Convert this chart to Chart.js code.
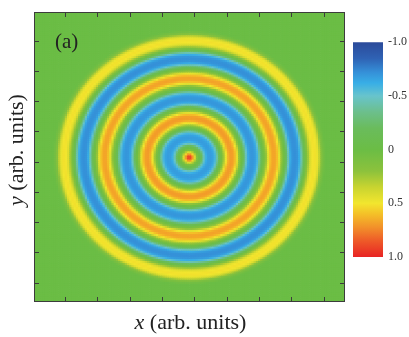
<!DOCTYPE html>
<html><head><meta charset="utf-8">
<script src="https://cdn.jsdelivr.net/npm/chart.js@4.4.1/dist/chart.umd.min.js"></script>
<style>
html,body{margin:0;padding:0;background:#fff;}
#wrap{position:relative;width:409px;height:337px;overflow:hidden;}
#main{position:absolute;left:0;top:0;width:409px;height:337px;}
#cbar{position:absolute;left:353px;top:30px;width:56px;height:240px;}
</style></head><body>
<div id="wrap"><div id="main"><canvas id="c1"></canvas></div><div id="cbar"><canvas id="c2"></canvas></div></div>
<script>
// Radial profile (radius in axis units, value on the colour scale)
const profileR = [0,0.013,0.026,0.039,0.051,0.064,
  0.084,0.096,0.109,0.122,0.135,0.148,0.161,0.174,0.186,0.203,
  0.219,0.232,0.244,0.257,0.270,0.283,0.296,0.309,0.322,0.338,
  0.354,0.367,0.379,0.392,0.405,0.418,0.431,0.444,0.457,0.473,
  0.492,0.505,0.518,0.531,0.543,0.556,0.569,0.582,0.595,0.611,
  0.627,0.640,0.653,0.666,0.678,0.691,0.704,0.717,0.730,0.746,
  0.752,0.765,0.778,0.791,0.804,0.817,0.830,0.842,0.855,0.875];
const profileV = [0.95,0.88,0.65,0.35,0.1,0,
  -0.26,-0.5,-0.62,-0.67,-0.68,-0.67,-0.62,-0.5,-0.26,0,
  0.2,0.42,0.6,0.68,0.7,0.68,0.6,0.42,0.2,0,
  -0.27,-0.51,-0.64,-0.69,-0.7,-0.69,-0.64,-0.51,-0.27,0,
  0.19,0.41,0.58,0.66,0.68,0.66,0.58,0.41,0.19,0,
  -0.27,-0.52,-0.66,-0.71,-0.72,-0.71,-0.66,-0.52,-0.27,0,
  0.1,0.26,0.42,0.5,0.52,0.5,0.42,0.26,0.1,0];
const xTicks = [-0.80,-0.595,-0.383,-0.177,0.029,0.241,0.447,0.653,0.865];
const yTicks = [0.802,0.593,0.386,0.179,-0.034,-0.241,-0.448,-0.655,-0.869];
const cbTicks = [-1,-0.5,0,0.5,1];
const cbLabels = ['-1.0','-0.5','0','0.5','1.0'];
const panelLabel = '(a)';
const xTitleVar = 'x', yTitleVar = 'y', titleRest = ' (arb. units)';
const gridN = 140;

// colour map stops (value -> colour)
const cmap = [[-1.0,'#2b4a9a'],[-0.85,'#2f62b4'],[-0.72,'#3590d8'],[-0.62,'#38aee6'],[-0.5,'#68c4cc'],[-0.35,'#6cbf8c'],[-0.2,'#6abc5c'],[0.0,'#6bbd45'],[0.2,'#8cc23c'],[0.35,'#c8d430'],[0.5,'#f2e62e'],[0.6,'#f4c028'],[0.72,'#f2922a'],[0.85,'#ee5a28'],[1.0,'#e82424']];
function hex2rgb(h){return [parseInt(h.substr(1,2),16),parseInt(h.substr(3,2),16),parseInt(h.substr(5,2),16)];}
const cmapRGB = cmap.map(s=>[s[0],hex2rgb(s[1])]);
function colorFor(v){
  v=Math.max(-1,Math.min(1,v));
  for(let k=0;k<cmapRGB.length-1;k++){
    const [a,ca]=cmapRGB[k],[b,cb]=cmapRGB[k+1];
    if(v<=b){const t=(v-a)/(b-a);return 'rgb('+ca.map((c,i)=>Math.round(c+(cb[i]-c)*t)).join(',')+')';}
  }
  return cmap[cmap.length-1][1];
}
function profileAt(r){
  if(r>=profileR[profileR.length-1]) return profileV[profileV.length-1];
  for(let k=0;k<profileR.length-1;k++){
    if(r<=profileR[k+1]){const t=(r-profileR[k])/(profileR[k+1]-profileR[k]);return profileV[k]+(profileV[k+1]-profileV[k])*t;}
  }
  return 0;
}
const cells=[], cellColors=[];
for(let j=0;j<gridN;j++){
  for(let i=0;i<gridN;i++){
    const x=-1+(i+0.5)*2/gridN, y=-1+(j+0.5)*2/gridN;
    const v=profileAt(Math.sqrt(x*x+y*y));
    cells.push({x,y,v});
    cellColors.push(colorFor(v));
  }
}

const SERIF='"Liberation Serif","Times New Roman",serif';
const framePlugin={
  id:'frame',
  afterDatasetsDraw(chart){
    const {ctx,chartArea:a,scales:{x,y}}=chart;
    ctx.save();
    ctx.strokeStyle='#3c3c3c';ctx.lineWidth=1;
    ctx.strokeRect(a.left+0.5,a.top+0.5,a.right-a.left-1,a.bottom-a.top-1);
    ctx.beginPath();
    xTicks.forEach(v=>{const px=Math.round(x.getPixelForValue(v))+0.5;ctx.moveTo(px,a.bottom);ctx.lineTo(px,a.bottom-5);ctx.moveTo(px,a.top);ctx.lineTo(px,a.top+5);});
    yTicks.forEach(v=>{const py=Math.round(y.getPixelForValue(v))+0.5;ctx.moveTo(a.left,py);ctx.lineTo(a.left+5,py);ctx.moveTo(a.right,py);ctx.lineTo(a.right-5,py);});
    ctx.stroke();
    ctx.fillStyle='#222';
    ctx.textBaseline='middle';
    ctx.font='21px '+SERIF;ctx.textAlign='left';
    ctx.fillText(panelLabel,a.left+21,a.top+30);
    const fi='italic 22px '+SERIF, fn='22px '+SERIF;
    ctx.font=fi;const w1=ctx.measureText(xTitleVar).width;
    ctx.font=fn;const w2=ctx.measureText(titleRest).width;
    const cx=(a.left+a.right)/2+1, x0=cx-(w1+w2)/2, ty=a.bottom+21;
    ctx.font=fi;ctx.fillText(xTitleVar,x0,ty);
    ctx.font=fn;ctx.fillText(titleRest,x0+w1,ty);
    ctx.translate(17.5,(a.top+a.bottom)/2-7);ctx.rotate(-Math.PI/2);
    ctx.font=fi;const v1=ctx.measureText(yTitleVar).width;
    const y0=-(v1+w2)/2;
    ctx.fillText(yTitleVar,y0,0);
    ctx.font=fn;ctx.fillText(titleRest,y0+v1,0);
    ctx.restore();
  }
};

new Chart(document.getElementById('c1'),{
  type:'scatter',
  data:{datasets:[{data:cells,pointStyle:'rect',borderWidth:0,pointBorderWidth:0,
    pointBackgroundColor:cellColors,
    pointRadius:(ctx)=>{const a=ctx.chart.chartArea;if(!a)return 2;const cw=(a.right-a.left)/gridN,ch=(a.bottom-a.top)/gridN;return (Math.max(cw,ch)/2+0.35)/Math.SQRT1_2;},
    pointHoverRadius:0}]},
  options:{responsive:true,maintainAspectRatio:false,animation:false,events:[],
    layout:{padding:{left:34,right:64,top:12,bottom:35}},
    plugins:{legend:{display:false},tooltip:{enabled:false}},
    scales:{x:{type:'linear',min:-1,max:1,display:false},y:{type:'linear',min:-1,max:1,display:false}}},
  plugins:[framePlugin]
});

new Chart(document.getElementById('c2'),{
  type:'bar',
  data:{labels:['cb'],datasets:[{data:[[-1,1]],borderWidth:0,barPercentage:1,categoryPercentage:1,
    backgroundColor:(ctx)=>{const ch=ctx.chart;if(!ch.chartArea)return '#6bbd45';const ys=ch.scales.y;
      const g=ch.ctx.createLinearGradient(0,ys.getPixelForValue(-1),0,ys.getPixelForValue(1));
      cmap.forEach(s=>g.addColorStop((s[0]+1)/2,s[1]));return g;}}]},
  options:{responsive:true,maintainAspectRatio:false,animation:false,events:[],
    layout:{padding:{left:0,right:0,top:11,bottom:13}},
    plugins:{legend:{display:false},tooltip:{enabled:false}},
    scales:{x:{display:false},
      y:{position:'right',reverse:true,min:-1,max:1,
        afterBuildTicks:(s)=>{s.ticks=cbTicks.map(v=>({value:v}));},
        afterFit:(s)=>{s.width=26;},
        grid:{display:false,drawTicks:false},border:{display:false},
        ticks:{padding:5,color:'#333',font:{family:SERIF,size:12},callback:(v)=>cbLabels[cbTicks.indexOf(v)]}}}}
});
</script>
</body></html>
